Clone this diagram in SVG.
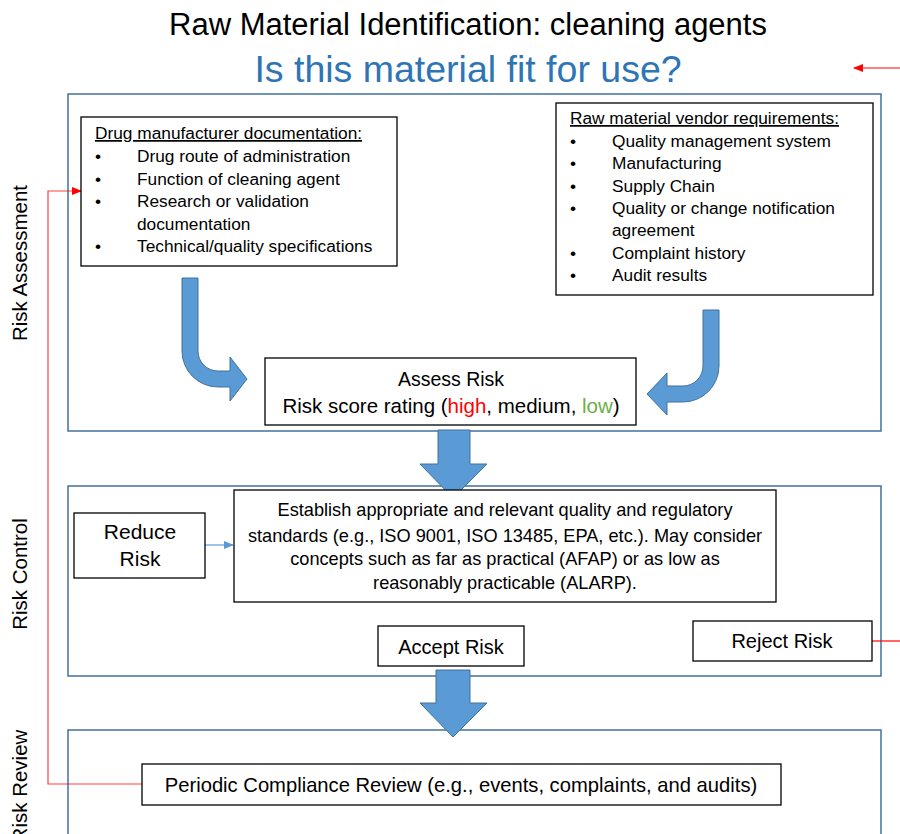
<svg xmlns="http://www.w3.org/2000/svg" width="900" height="834" viewBox="0 0 900 834">
<style>
text{font-family:"Liberation Sans",Arial,sans-serif;fill:#000}
.t{font-size:17.3px}
.c{text-anchor:middle}
.panel{fill:none;stroke:#41719C;stroke-width:1.5}
.box{fill:#fff;stroke:#000;stroke-width:1.3}
.barrow{fill:#5B9BD5;stroke:#41719C;stroke-width:1}
.side{font-size:20.5px;text-anchor:middle}
.red{fill:none;stroke:#FF0000;stroke-width:1.2}
</style>
<defs>
<marker id="rh" markerWidth="10" markerHeight="8" refX="9" refY="4" orient="auto" markerUnits="userSpaceOnUse"><path d="M0,0 L10,4 L0,8 Z" fill="#FF0000"/></marker>
<marker id="bh" markerWidth="10" markerHeight="8" refX="9" refY="4" orient="auto" markerUnits="userSpaceOnUse"><path d="M0,0 L10,4 L0,8 Z" fill="#5B9BD5"/></marker>
</defs>
<rect width="900" height="834" fill="#fff"/>
<text x="468" y="35" class="c" font-size="31">Raw Material Identification: cleaning agents</text>
<text x="468" y="82" class="c" font-size="37.5" style="fill:#2E75B6">Is this material fit for use?</text>
<text transform="translate(27,263) rotate(-90)" class="side">Risk Assessment</text>
<text transform="translate(27,574) rotate(-90)" class="side">Risk Control</text>
<text transform="translate(27,786) rotate(-90)" class="side">Risk Review</text>
<g id="panels">
<rect class="panel" x="68" y="94" width="813" height="337"/>
<rect class="panel" x="68" y="486" width="813" height="190"/>
<rect class="panel" x="68" y="730" width="813" height="120"/>
</g>
<g id="connectors">
<path class="barrow" d="M182,278 H198 V351 A20,20 0 0 0 218,371 H230 V357 L247,379 L230,401 V387 H218 A36,36 0 0 1 182,351 Z"/>
<path class="barrow" d="M703,310 H719 V366 A36,36 0 0 1 683,402 H667 V415 L647,394 L667,373 V386 H683 A20,20 0 0 0 703,366 Z"/>
<path class="barrow" d="M438,430 H470 V464 H487 L453,498 L420,464 H438 Z"/>
<path class="barrow" d="M436,670 H470 V703 H487 L453,737 L420,703 H436 Z"/>
<line x1="205" y1="545" x2="233" y2="545" stroke="#5B9BD5" stroke-width="1.2" marker-end="url(#bh)"/>
<line x1="900" y1="68" x2="854" y2="68" class="red" marker-end="url(#rh)"/>
<polyline points="142,784 48,784 48,191 81,191" class="red" stroke-opacity="0.75" marker-end="url(#rh)"/>
<line x1="872" y1="641" x2="900" y2="641" class="red" stroke="#E03030"/>
</g>
<g id="drug-doc">
<rect class="box" x="81" y="117" width="316" height="149"/>
<text x="95" y="139" class="t" text-decoration="underline">Drug manufacturer documentation:</text>
<text x="95" y="162" class="t">•</text><text x="137" y="162" class="t">Drug route of administration</text>
<text x="95" y="185" class="t">•</text><text x="137" y="185" class="t">Function of cleaning agent</text>
<text x="95" y="207" class="t">•</text><text x="137" y="207" class="t">Research or validation</text>
<text x="137" y="230" class="t">documentation</text>
<text x="95" y="252" class="t">•</text><text x="137" y="252" class="t">Technical/quality specifications</text>
</g>
<g id="vendor">
<rect class="box" x="556" y="103" width="317" height="192"/>
<text x="570" y="124" class="t" text-decoration="underline">Raw material vendor requirements:</text>
<text x="570" y="147" class="t">•</text><text x="612" y="147" class="t">Quality management system</text>
<text x="570" y="169" class="t">•</text><text x="612" y="169" class="t">Manufacturing</text>
<text x="570" y="192" class="t">•</text><text x="612" y="192" class="t">Supply Chain</text>
<text x="570" y="214" class="t">•</text><text x="612" y="214" class="t">Quality or change notification</text>
<text x="612" y="236" class="t">agreement</text>
<text x="570" y="259" class="t">•</text><text x="612" y="259" class="t">Complaint history</text>
<text x="570" y="281" class="t">•</text><text x="612" y="281" class="t">Audit results</text>
</g>
<g id="assess">
<rect class="box" x="265" y="358" width="371" height="67"/>
<text x="451" y="386" class="c" font-size="19.5">Assess Risk</text>
<text x="451" y="413" class="c" font-size="20.5">Risk score rating (<tspan style="fill:#FF0000">high</tspan>, medium, <tspan style="fill:#70AD47">low</tspan>)</text>
</g>
<g id="establish">
<rect class="box" x="234" y="490" width="542" height="112"/>
<text x="505" y="516" class="c" font-size="18.2">Establish appropriate and relevant  quality and regulatory</text>
<text x="505" y="542" class="c" font-size="18.2">standards (e.g., ISO 9001, ISO 13485, EPA, etc.). May consider</text>
<text x="505" y="565" class="c" font-size="18.2">concepts such as far as practical (AFAP) or as low as</text>
<text x="505" y="589" class="c" font-size="18.2">reasonably practicable (ALARP).</text>
</g>
<g id="reduce">
<rect class="box" x="74" y="513" width="131" height="65"/>
<text x="140" y="539" class="c" font-size="21">Reduce</text>
<text x="140" y="566" class="c" font-size="21">Risk</text>
</g>
<g id="accept">
<rect class="box" x="378" y="626" width="146" height="40"/>
<text x="451" y="654" class="c" font-size="20">Accept Risk</text>
</g>
<g id="reject">
<rect class="box" x="693" y="621" width="179" height="40"/>
<text x="782" y="648" class="c" font-size="20">Reject Risk</text>
</g>
<g id="periodic">
<rect class="box" x="142" y="764" width="639" height="41"/>
<text x="461" y="792" class="c" font-size="20.2">Periodic Compliance Review (e.g., events, complaints, and audits)</text>
</g>
</svg>
